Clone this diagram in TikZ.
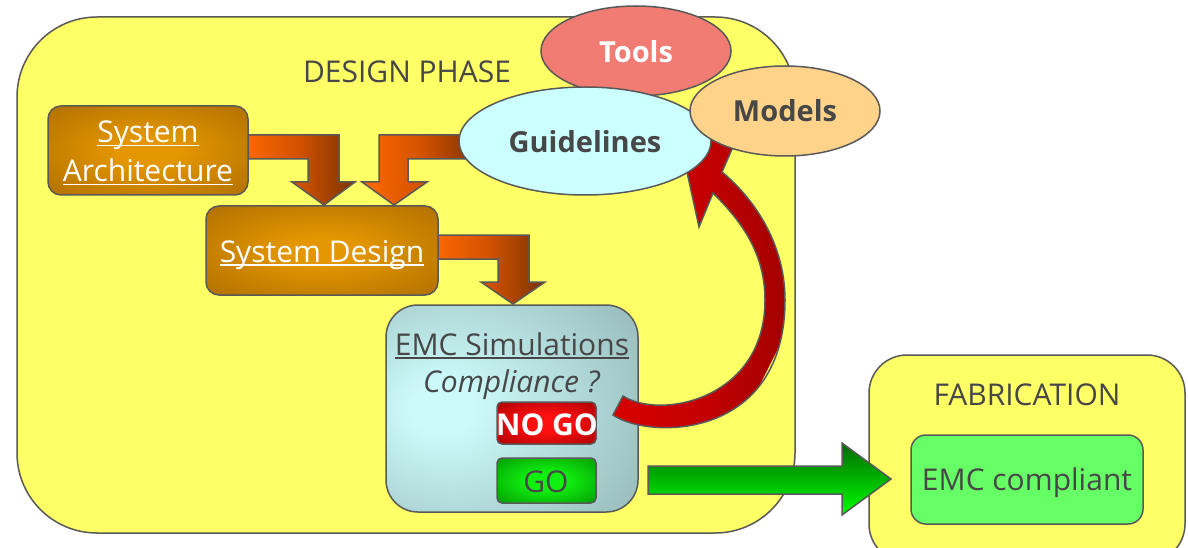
\documentclass[tikz,border=0pt]{standalone}
\usepackage{fontspec}
\setmainfont{Open Sans}
\usetikzlibrary{shapes.geometric}
\definecolor{txt}{HTML}{474747}
\definecolor{edge}{HTML}{595959}
\definecolor{yel}{HTML}{FFFF66}
\definecolor{brownin}{HTML}{E39600}
\definecolor{brownout}{HTML}{A66800}
\definecolor{emcin}{HTML}{CCFAFA}
\definecolor{emcout}{HTML}{93B5B5}
\definecolor{nogoin}{HTML}{FF1010}
\definecolor{nogoout}{HTML}{960000}
\definecolor{goin}{HTML}{10F010}
\definecolor{goout}{HTML}{008800}
\definecolor{orA}{HTML}{FF6A00}
\definecolor{orB}{HTML}{D45200}
\definecolor{orC}{HTML}{7A3300}
\definecolor{toolsc}{HTML}{F17C74}
\definecolor{guidec}{HTML}{CCFFFF}
\definecolor{modelc}{HTML}{FFD38A}
\definecolor{grn}{HTML}{66FF66}
\definecolor{redA}{HTML}{F20000}
\definecolor{redB}{HTML}{C40000}
\definecolor{redC}{HTML}{780000}
\definecolor{gA}{HTML}{006A00}
\definecolor{gB}{HTML}{00FF00}
\pgfdeclareradialshading{brownsh}{\pgfpoint{0bp}{0bp}}{color(0bp)=(brownin); color(8bp)=(brownin); color(42bp)=(brownout); color(100bp)=(brownout)}
\pgfdeclareradialshading{emcsh}{\pgfpoint{-15bp}{0bp}}{color(0bp)=(emcin); color(6bp)=(emcin); color(45bp)=(emcout); color(100bp)=(emcout)}
\pgfdeclareradialshading{nogosh}{\pgfpoint{0bp}{0bp}}{color(0bp)=(nogoin); color(10bp)=(nogoin); color(42bp)=(nogoout); color(100bp)=(nogoout)}
\pgfdeclareradialshading{gosh}{\pgfpoint{0bp}{0bp}}{color(0bp)=(goin); color(10bp)=(goin); color(42bp)=(goout); color(100bp)=(goout)}
\newlength\ulwd
\newcommand\myul[1]{\settowidth{\ulwd}{#1}\rlap{\rule[-3.5pt]{\ulwd}{1.8pt}}#1}
\tikzset{
  outl/.style={draw=edge, line width=1.5pt},
  rbox/.style={outl, rectangle, inner sep=0pt},
  txtn/.style={inner sep=0pt, anchor=base, text=txt, font=\fontsize{30}{36}\selectfont},
  boldn/.style={inner sep=0pt, anchor=base, text=txt, font=\fontsize{29}{35}\selectfont\bfseries},
  ell/.style={outl, ellipse, inner sep=0pt},
  orarrow/.style={outl, left color=orA, right color=orC, middle color=orB},
}
\begin{document}
\begin{tikzpicture}[x=1pt,y=-1pt]
\useasboundingbox (0,0) rectangle (1188,548);
\clip (0,0) rectangle (1188,548);
% containers
\node[rbox, rounded corners=80pt, fill=yel, minimum width=778pt, minimum height=516pt] (design) at (406,275) {};
\node[rbox, rounded corners=38pt, fill=yel, minimum width=316pt, minimum height=207pt] (fab) at (1027,458.5) {};
\node[txtn] (designT) at (407,83) {DESIGN PHASE};
\node[txtn] (fabT) at (1027,405) {FABRICATION};
% orange block arrows
\draw[orarrow] (240,135) -- (339,135) -- (339,182) -- (355,182) -- (324,205) -- (292,182) -- (308,182) -- (308,159) -- (240,159) -- cycle;
\draw[orarrow] (480,135) -- (379,135) -- (379,182) -- (362,182) -- (394,205) -- (427,182) -- (408,182) -- (408,159) -- (480,159) -- cycle;
\draw[orarrow] (430,235) -- (529,235) -- (529,282) -- (545,282) -- (513,304) -- (481,282) -- (498,282) -- (498,259) -- (430,259) -- cycle;
% brown boxes
\node[rbox, rounded corners=13pt, shade, shading=brownsh, minimum width=200pt, minimum height=89pt] (sa) at (148,150.5) {};
\node[txtn, text=white] (saT1) at (148,143) {\myul{System}};
\node[txtn, text=white] (saT2) at (148,182) {\myul{Architecture}};
\node[rbox, rounded corners=13pt, shade, shading=brownsh, minimum width=232pt, minimum height=89pt] (sd) at (322,250.5) {};
\node[txtn, text=white] (sdT) at (322,262) {\myul{System Design}};
% EMC simulations
\node[rbox, rounded corners=32pt, shade, shading=emcsh, minimum width=252pt, minimum height=207pt] (emc) at (512,408.5) {};
\node[txtn] (emcT1) at (512,355) {\myul{EMC Simulations}};
\node[txtn] (emcT2) at (511.5,392) {\itshape Compliance ?};
\node[rbox, rounded corners=5pt, shade, shading=nogosh, minimum width=99pt, minimum height=42pt] (nogo) at (546.5,423) {};
\node[txtn, text=white, font=\fontsize{30}{36}\selectfont\bfseries] (nogoT) at (547,435) {NO GO};
\node[rbox, rounded corners=5pt, shade, shading=gosh, minimum width=99pt, minimum height=45pt] (go) at (546.5,480.5) {};
\node[txtn] (goT) at (546,492) {GO};
% red curved arrow
\draw[outl, path picture={
  \begin{scope}[shift={(path picture bounding box.center)}, rotate=-26.6]
    \shade[left color=redA, right color=redC, middle color=redB] (-100,-260) rectangle (100,260);
  \end{scope}}]
  (613,415) .. controls (650,440) and (785,440) .. (785,300)
  .. controls (785,240) and (750,195) .. (722,172)
  -- (742,126) -- (680,140) -- (699,227) -- (713,193)
  .. controls (738,218) and (765,250) .. (765,300)
  .. controls (765,400) and (660,420) .. (623,396) -- cycle;
% ellipses
\node[ell, fill=toolsc, minimum width=190pt, minimum height=90pt] (tools) at (636,51) {};
\node[boldn, text=white] (toolsT) at (636,63) {Tools};
\node[ell, fill=guidec, minimum width=252pt, minimum height=108pt] (guide) at (585,141) {};
\node[boldn] (guideT) at (585,153) {Guidelines};
\node[ell, fill=modelc, minimum width=190pt, minimum height=90pt] (models) at (785,111) {};
\node[boldn] (modelsT) at (785,122) {Models};
% fabrication content
\node[rbox, rounded corners=15pt, fill=grn, minimum width=232pt, minimum height=89pt] (comp) at (1027,479.5) {};
\node[txtn] (compT) at (1027,490) {EMC compliant};
% green arrow
\draw[outl, top color=gA, bottom color=gB] (648,466) -- (842,466) -- (842,443) -- (891,479) -- (842,515) -- (842,494) -- (648,494) -- cycle;
\end{tikzpicture}
\end{document}
